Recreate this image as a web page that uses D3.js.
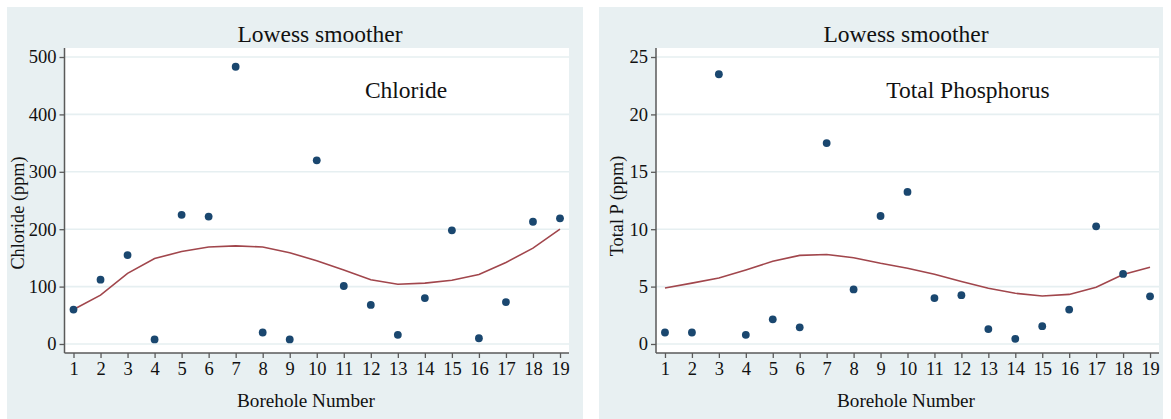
<!DOCTYPE html>
<html>
<head>
<meta charset="utf-8">
<script src="https://cdn.jsdelivr.net/npm/d3@7"></script>
<style>
  html, body { margin: 0; padding: 0; background: #ffffff; }
  svg { display: block; }
  text { font-family: "Liberation Serif", "Times New Roman", serif; fill: #111; }
</style>
</head>
<body>
<svg id="chart" width="1171" height="419"></svg>
<script>
// Borehole numbers along the x axis
const boreholes = d3.range(1, 20);
const xTickLabels = boreholes.map(String);

// Chloride (ppm) measured at each borehole
const chloride = [60, 112, 155, 8, 225, 222, 483, 20, 8, 320, 101, 68, 16, 80, 198, 10, 73, 213, 219];
// Lowess smoothed chloride
const chlorideLowess = [60, 85, 123, 149, 161, 169, 171, 169, 159, 145, 129, 112, 104, 106, 111, 121, 142, 167, 200];
const chlorideTicks = [0, 100, 200, 300, 400, 500];

// Total phosphorus (ppm) measured at each borehole
const phosphorus = [1.0, 1.0, 23.5, 0.8, 2.15, 1.45, 17.5, 4.75, 11.15, 13.25, 4.0, 4.25, 1.3, 0.45, 1.55, 3.0, 10.25, 6.1, 4.15];
// Lowess smoothed total phosphorus
const phosphorusLowess = [4.88, 5.3, 5.75, 6.45, 7.2, 7.72, 7.8, 7.52, 7.03, 6.6, 6.07, 5.45, 4.85, 4.42, 4.18, 4.32, 4.95, 6.05, 6.68];
const phosphorusTicks = [0, 5, 10, 15, 20, 25];

const svg = d3.select("#chart");

const panels = [
  {
    values: chloride, smooth: chlorideLowess, ticks: chlorideTicks,
    yPad: [-15.7, 515.7],
    bg: [7, 7, 576, 412],
    plot: { left: 64.5, right: 569, top: 48, bottom: 353 },
    title: "Lowess smoother", titleX: 320,
    note: "Chloride", noteX: 406,
    yLabel: "Chloride (ppm)", yLabelX: 24, yLabelY: 213,
    xLabel: "Borehole Number", xLabelX: 306
  },
  {
    values: phosphorus, smooth: phosphorusLowess, ticks: phosphorusTicks,
    yPad: [-0.785, 25.785],
    bg: [599, 7, 564, 412],
    plot: { left: 656, right: 1159, top: 48, bottom: 353 },
    title: "Lowess smoother", titleX: 906,
    note: "Total Phosphorus", noteX: 968,
    yLabel: "Total P (ppm)", yLabelX: 623, yLabelY: 206,
    xLabel: "Borehole Number", xLabelX: 906
  }
];

panels.forEach(p => {
  const g = svg.append("g");
  const pl = p.plot;

  // graph region background
  g.append("rect")
    .attr("x", p.bg[0]).attr("y", p.bg[1])
    .attr("width", p.bg[2]).attr("height", p.bg[3])
    .attr("fill", "#e8f0f2");

  // white plot region
  g.append("rect")
    .attr("x", pl.left).attr("y", pl.top)
    .attr("width", pl.right - pl.left).attr("height", pl.bottom - pl.top)
    .attr("fill", "#ffffff");

  const x = d3.scaleLinear().domain([0.667, 19.333]).range([pl.left, pl.right]);
  const y = d3.scaleLinear().domain(p.yPad).range([pl.bottom, pl.top]);

  // horizontal grid lines
  g.append("g").selectAll("line").data(p.ticks).join("line")
    .attr("x1", pl.left).attr("x2", pl.right)
    .attr("y1", d => y(d)).attr("y2", d => y(d))
    .attr("stroke", "#e6eff1").attr("stroke-width", 1.6);

  // y axis
  const yAxis = d3.axisLeft(y).tickValues(p.ticks).tickSize(5).tickPadding(3);
  const ya = g.append("g").attr("transform", `translate(${pl.left},0)`).call(yAxis);
  ya.select(".domain").attr("d", `M0,${pl.top}V${pl.bottom}`);

  // x axis
  const xAxis = d3.axisBottom(x).tickValues(boreholes)
    .tickFormat((d, i) => xTickLabels[i]).tickSize(5).tickPadding(4);
  const xa = g.append("g").attr("transform", `translate(0,${pl.bottom})`).call(xAxis);
  xa.select(".domain").attr("d", `M${pl.left},0H${pl.right}`);

  [ya, xa].forEach(a => {
    a.select(".domain").attr("stroke", "#5a5a5a").attr("stroke-width", 1.5);
    a.selectAll(".tick line").attr("stroke", "#5a5a5a").attr("stroke-width", 1.3);
    a.selectAll(".tick text")
      .attr("font-family", "'Liberation Serif', 'Times New Roman', serif")
      .attr("font-size", 18.5).attr("fill", "#111");
  });

  // lowess smoother
  g.append("path")
    .datum(p.smooth)
    .attr("d", d3.line().x((d, i) => x(boreholes[i])).y(d => y(d)))
    .attr("fill", "none").attr("stroke", "#a1464c").attr("stroke-width", 1.6);

  // observations
  g.append("g").selectAll("circle").data(p.values).join("circle")
    .attr("cx", (d, i) => x(boreholes[i])).attr("cy", d => y(d))
    .attr("r", 3.9).attr("fill", "#1a476f");

  // texts
  g.append("text").attr("x", p.titleX).attr("y", 42)
    .attr("text-anchor", "middle").attr("font-size", 23.5).text(p.title);
  g.append("text").attr("x", p.noteX).attr("y", 98)
    .attr("text-anchor", "middle").attr("font-size", 23.5).text(p.note);
  g.append("text").attr("x", p.xLabelX).attr("y", 407)
    .attr("text-anchor", "middle").attr("font-size", 19.2).text(p.xLabel);
  g.append("text")
    .attr("transform", `translate(${p.yLabelX},${p.yLabelY}) rotate(-90)`)
    .attr("text-anchor", "middle").attr("font-size", 18.3).text(p.yLabel);
});
</script>
</body>
</html>
